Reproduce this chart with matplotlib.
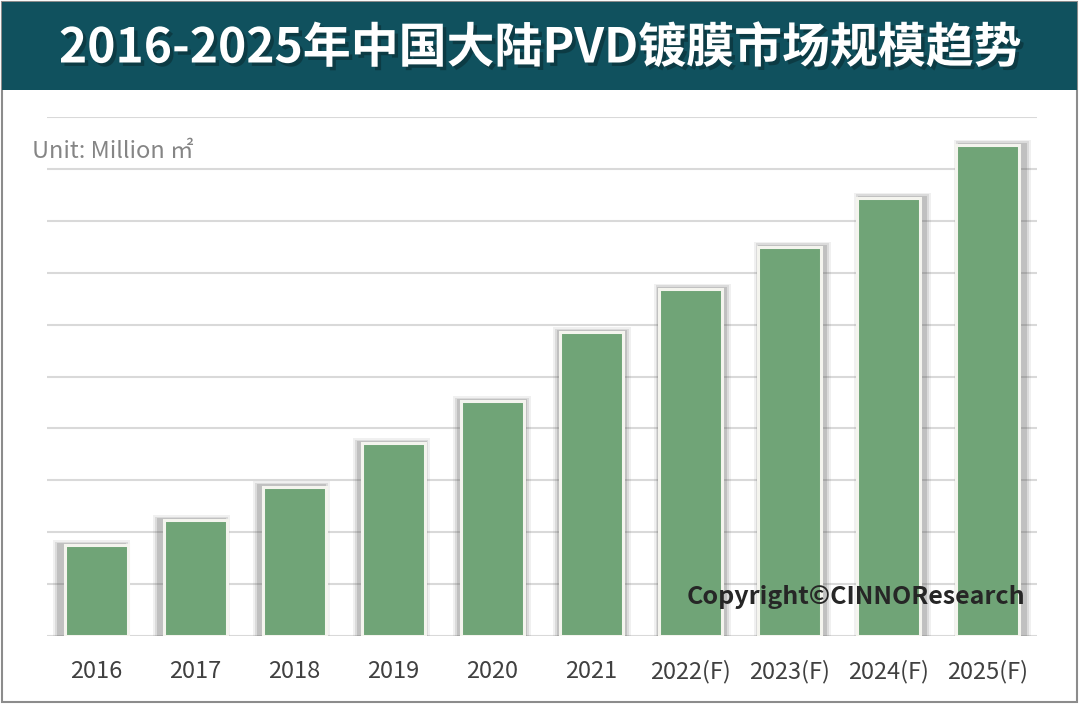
import matplotlib
matplotlib.use("Agg")
import matplotlib.pyplot as plt
import matplotlib.patheffects as pe
from matplotlib.patches import Rectangle
import numpy as np

plt.rcParams['font.family'] = ['Noto Sans CJK SC', 'DejaVu Sans']

# data (gridline units, no axis labels shown)
years = ['2016', '2017', '2018', '2019', '2020', '2021',
         '2022(F)', '2023(F)', '2024(F)', '2025(F)']
market_size = [1.75, 2.23, 2.88, 3.71, 4.52, 5.85, 6.69, 7.50, 8.44, 9.46]

title = '2016-2025年中国大陆PVD镀膜市场规模趋势'
unit_label = 'Unit: Million ㎡'
copyright_label = 'Copyright©CINNOResearch'

bar_color = '#70a477'
banner_color = '#10515e'
grid_color = '#d9d9d9'

fig = plt.figure(figsize=(10.8, 7.05), dpi=100)

# outer frame and title banner
fig.patches.append(Rectangle((2 / 1080, 3 / 705), 1075 / 1080, 700 / 705,
                             transform=fig.transFigure, facecolor='white',
                             edgecolor='#8c8c8c', linewidth=1.5, zorder=0))
fig.patches.append(Rectangle((2 / 1080, 615 / 705), 1075 / 1080, 88 / 705,
                             transform=fig.transFigure, facecolor=banner_color,
                             edgecolor='none', zorder=1))
fig.text(0.5, 657 / 705, title, ha='center', va='center', color='white',
         fontsize=34.5, fontweight='bold',
         path_effects=[pe.SimplePatchShadow(offset=(2.5, -2.5), shadow_rgbFace='#0a2a30', alpha=0.55),
                       pe.Normal()])

ax = fig.add_axes([47 / 1080, 69 / 705, 990 / 1080, 519 / 705])
ax.set_zorder(5)
ax.set_xlim(-0.5, 9.5)
ax.set_ylim(0, 10)
ax.set_facecolor('none')

x = np.arange(len(years))

# soft shadows behind the bars, leaning outwards from the centre
for i, (xi, h) in enumerate(zip(x, market_size)):
    shift = (i - 4.5) / 4.5 * 0.05
    for k, a in [(0.07, 0.08), (0.05, 0.12), (0.03, 0.18)]:
        ax.add_patch(Rectangle((xi - 0.32 - k + shift, 0), 0.64 + 2 * k, h + k * 1.4,
                               facecolor='#4a4a4a', edgecolor='none', alpha=a, zorder=2))

ax.bar(x, market_size, width=0.64, color=bar_color, edgecolor='#f4f4ee',
       linewidth=2.2, zorder=3)

ax.set_yticks(np.arange(0, 11, 1))
ax.yaxis.grid(True, color=grid_color, linewidth=1.5)
ax.set_axisbelow(True)
ax.set_yticklabels([])
ax.set_xticks(x)
ax.set_xticklabels(years, fontsize=17, color='#404040')
ax.tick_params(axis='both', length=0)
ax.tick_params(axis='x', pad=17)
for s in ax.spines.values():
    s.set_visible(False)

fig.text(32 / 1080, (705 - 152) / 705, unit_label, ha='left', va='center',
         fontsize=17, color='#858585', zorder=6)
fig.text(1025 / 1080, (705 - 597) / 705, copyright_label, ha='right', va='center',
         fontsize=18, fontweight='bold', color='#262626', zorder=10)

fig.savefig('out.png', dpi=100)
